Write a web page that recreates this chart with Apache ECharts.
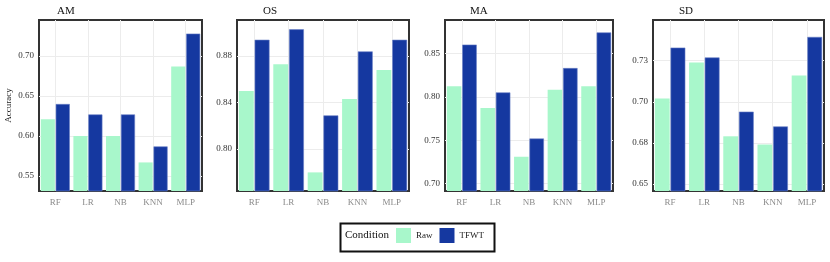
<!DOCTYPE html>
<html><head><meta charset="utf-8">
<script src="https://cdn.jsdelivr.net/npm/echarts@6/dist/echarts.min.js"></script>
<style>html,body{margin:0;padding:0;background:#fff}#c{width:830px;height:262px}</style>
</head><body><div id="c"></div>
<script>
const categories = ['RF','LR','NB','KNN','MLP'];
const panelTitles = ['AM','OS','MA','SD'];
const rawAM   = [0.621, 0.600, 0.600, 0.567, 0.687];
const tfwtAM  = [0.640, 0.627, 0.627, 0.587, 0.728];
const rawOS   = [0.850, 0.873, 0.780, 0.843, 0.868];
const tfwtOS  = [0.894, 0.903, 0.829, 0.884, 0.894];
const rawMA   = [0.812, 0.787, 0.731, 0.808, 0.812];
const tfwtMA  = [0.860, 0.805, 0.752, 0.833, 0.874];
const rawSD   = [0.702, 0.724, 0.679, 0.674, 0.716];
const tfwtSD  = [0.733, 0.727, 0.694, 0.685, 0.7395];
const ticksAM = [0.55, 0.60, 0.65, 0.70];
const ticksOS = [0.80, 0.84, 0.88];
const ticksMA = [0.70, 0.75, 0.80, 0.85];
const ticksSD = [0.65, 0.675, 0.70, 0.725];
const rangeAM = [0.5313, 0.745];
const rangeOS = [0.764, 0.911];
const rangeMA = [0.6916, 0.8883];
const rangeSD = [0.6457, 0.7498];

const rawSets = [rawAM, rawOS, rawMA, rawSD];
const tfwtSets = [tfwtAM, tfwtOS, tfwtMA, tfwtSD];
const tickSets = [ticksAM, ticksOS, ticksMA, ticksSD];
const ranges = [rangeAM, rangeOS, rangeMA, rangeSD];

const grids = [
  {left: 39, top: 20, width: 163, height: 171},
  {left: 237, top: 20, width: 172, height: 171},
  {left: 445, top: 20, width: 168, height: 171},
  {left: 653, top: 20, width: 171, height: 171}
];
const titleX = [52, 258, 465, 674];
const FONT = '"Liberation Serif", "DejaVu Serif", serif';
const RAW_C = '#a8f7cb';
const TFWT_C = '#1538a0';

const chart = echarts.init(document.getElementById('c'), null, {renderer: 'canvas'});
const fmt = v => (Math.round(v * 100 + 1e-6) / 100).toFixed(2);

const option = {
  animation: false,
  textStyle: {fontFamily: FONT},
  title: panelTitles.map((t, i) => ({
    text: t, left: titleX[i], top: 1,
    textStyle: {fontFamily: FONT, fontSize: 11, fontWeight: 'normal', color: '#111'}
  })),
  grid: grids.map(g => Object.assign({show: true, borderColor: '#333', borderWidth: 2, backgroundColor: 'transparent', containLabel: false}, g)),
  xAxis: grids.map((g, i) => ({
    type: 'category', gridIndex: i, data: categories,
    axisLine: {show: false}, axisTick: {show: false, alignWithLabel: true},
    splitLine: {show: true, alignWithLabel: true, lineStyle: {color: '#ececec', width: 1}},
    axisLabel: {fontFamily: FONT, fontSize: 9, color: '#8a8a8a', margin: 7}
  })),
  yAxis: grids.map((g, i) => ({
    type: 'value', gridIndex: i, min: ranges[i][0], max: ranges[i][1],
    name: i === 0 ? 'Accuracy' : '', nameLocation: 'middle', nameGap: 26,
    nameTextStyle: {fontFamily: FONT, fontSize: 9, color: '#222'},
    axisLine: {show: false},
    axisTick: {show: false, customValues: tickSets[i]},
    splitLine: {show: true, lineStyle: {color: '#ececec', width: 1}},
    axisLabel: {customValues: tickSets[i], formatter: fmt, fontFamily: FONT, fontSize: 9, color: '#333', margin: 5}
  })),
  legend: {
    left: 396, top: 228, padding: 0, itemWidth: 15, itemHeight: 15, itemGap: 7, icon: 'rect',
    textStyle: {fontFamily: FONT, fontSize: 9, color: '#222'},
    data: ['Raw', {name: 'TFWT', itemStyle: {borderWidth: 0}}]
  },
  graphic: [
    {type: 'rect', left: 338, top: 221, shape: {width: 154, height: 28}, style: {fill: 'none', stroke: '#111', lineWidth: 2}},
    {type: 'text', left: 345, top: 230, style: {text: 'Condition', font: '11px ' + FONT, fill: '#111'}}
  ],
  series: []
};
for (let i = 0; i < 4; i++) {
  option.series.push({
    name: 'Raw', type: 'bar', xAxisIndex: i, yAxisIndex: i, data: rawSets[i],
    barGap: '6%', barCategoryGap: '11%',
    itemStyle: {color: RAW_C}
  });
  option.series.push({
    name: 'TFWT', type: 'bar', xAxisIndex: i, yAxisIndex: i, data: tfwtSets[i],
    barGap: '6%', barCategoryGap: '11%',
    itemStyle: {color: TFWT_C, borderColor: '#6a7fc6', borderWidth: 0.6}
  });
}
chart.setOption(option);
</script>
</body></html>
